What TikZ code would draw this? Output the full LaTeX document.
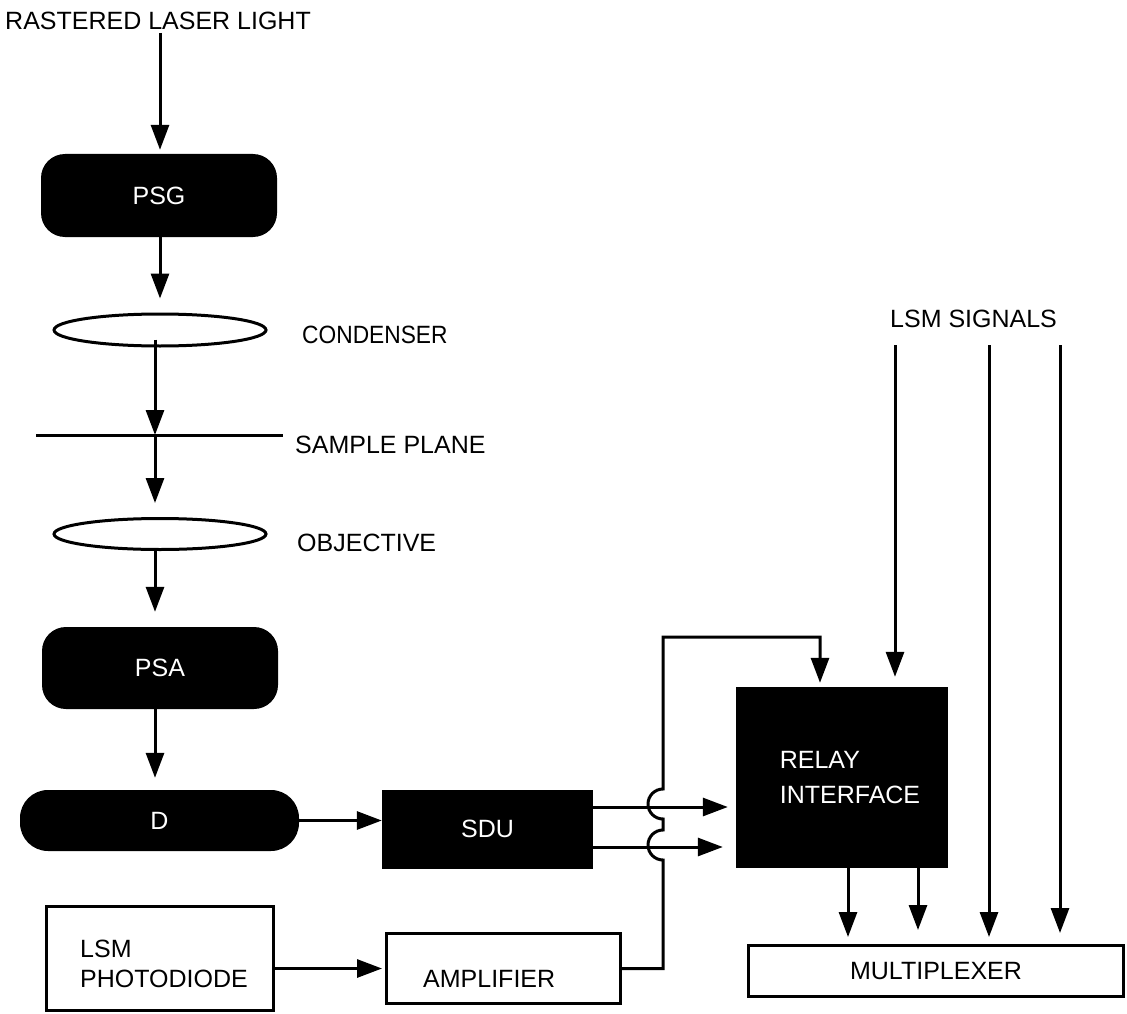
\documentclass[tikz,border=0pt]{standalone}
\usepackage{fontspec}
\setmainfont{Liberation Sans}
\usepackage{graphicx}
\usetikzlibrary{arrows.meta,shapes.geometric}
\begin{document}
\begin{tikzpicture}[x=1pt,y=-1pt,
  every node/.style={font=\fontsize{25}{30}\selectfont},
  lw/.style={line width=3pt},
  arr/.style={lw,-{Triangle[length=25pt,width=18pt]}},
  blk/.style={fill=black,text=white,inner sep=0pt},
  rblk/.style={blk,rounded corners=24pt},
  wbox/.style={draw=black,lw,fill=white,inner sep=0pt},
  lens/.style={ellipse,draw=black,lw,fill=white,inner sep=0pt},
  lbl/.style={inner sep=0pt,anchor=base west}]
\useasboundingbox[fill=white] (0,0) rectangle (1127,1014);

% nodes
\node[rblk,minimum width=236pt,minimum height=83pt] (psg) at (159,195.5) {PSG};
\node[lens,minimum width=212pt,minimum height=32pt] (cond) at (160,330) {};
\node[lens,minimum width=212pt,minimum height=31pt] (obj) at (160,534) {};
\node[rblk,minimum width=236pt,minimum height=82pt] (psa) at (160,668) {PSA};
\node[blk,rounded corners=28pt,minimum width=279pt,minimum height=61pt] (d) at (159.5,820.5) {D};
\node[blk,minimum width=211pt,minimum height=79pt] (sdu) at (487.5,829) {SDU};
\node[blk,minimum width=212pt,minimum height=181pt,align=left,font=\fontsize{25}{35}\selectfont] (relay) at (842,777.5) {\hspace*{16pt}RELAY\\\hspace*{16pt}INTERFACE};
\node[wbox,minimum width=375pt,minimum height=51pt] (mux) at (936,971) {MULTIPLEXER};
\node[wbox,minimum width=227pt,minimum height=104pt] (photo) at (160,958.5) {};
\node[wbox,minimum width=234pt,minimum height=70pt] (amp) at (503.5,968.5) {};

% labels
\node[lbl] (title) at (5,30) {RASTERED LASER LIGHT};
\node[lbl] (condlbl) at (302,343) {\scalebox{0.91}[1]{CONDENSER}};
\node[lbl] (splbl) at (295,453) {SAMPLE PLANE};
\node[lbl] (objlbl) at (297,551) {OBJECTIVE};
\node[lbl] (siglbl) at (890,327) {LSM SIGNALS};
\node[inner sep=0pt,align=left,anchor=base west] (photolbl) at ([xshift=35pt,yshift=-29pt]photo.west) {LSM\\PHOTODIODE};
\node[lbl] (amplbl) at (423,987) {AMPLIFIER};

% coordinates
\coordinate (lasertop) at (160,33);
\coordinate (spl) at (36,435);
\coordinate (spr) at (283,435);
\coordinate (sp) at (155,435);
\coordinate (j1) at (663,860);
\coordinate (j2) at (663,819);
\coordinate (fbcorner) at (663,637);
\coordinate (fbend) at (820,637);
\coordinate (sig1) at (895,345);
\coordinate (sig2) at (989,345);
\coordinate (sig3) at (1060,345);
\coordinate (o1) at (848,900);
\coordinate (o2) at (918,900);

% sample plane
\draw[lw] (spl) -- (spr);

% optical path
\draw[arr,shorten >=4pt] (lasertop) -- (psg.north -| lasertop);
\draw[arr,shorten >=14pt] (psg.south -| lasertop) -- (cond.north -| lasertop);
\draw[arr,shorten <=-8pt] (cond.south -| sp) -- (sp);
\draw[arr,shorten >=14pt] (sp) -- (obj.north -| sp);
\draw[arr,shorten >=15pt] (obj.south -| sp) -- (psa.north -| sp);
\draw[arr,shorten >=12pt] (psa.south -| sp) -- (d.north -| sp);
\draw[arr] (d.east) -- (d.east -| sdu.west);

% SDU to relay
\draw[arr,shorten >=8pt] ([yshift=22pt]sdu.east) -- ([yshift=22pt]sdu.east -| relay.west);
\draw[arr,shorten >=13pt] ([yshift=-18pt]sdu.east) -- ([yshift=-18pt]sdu.east -| relay.west);

% photodiode to amplifier
\draw[arr,shorten >=3pt] (photo.east |- amp.west) -- (amp.west);

% amplifier feedback with jumps
\draw[arr,shorten >=4pt] (amp.east) -- (amp.east -| j1) -- (j1)
  arc[start angle=270,end angle=90,radius=15pt] -- (j2)
  arc[start angle=270,end angle=90,radius=15pt] -- (fbcorner) -- (fbend) -- (relay.north -| fbend);

% LSM signals
\draw[arr,shorten >=10pt] (sig1) -- (relay.north -| sig1);
\draw[arr,shorten >=7pt] (sig2) -- (mux.north -| sig2);
\draw[arr,shorten >=11pt] (sig3) -- (mux.north -| sig3);

% relay outputs
\draw[arr,shorten >=7pt] (relay.south -| o1) -- (mux.north -| o1);
\draw[arr,shorten >=14pt] (relay.south -| o2) -- (mux.north -| o2);
\end{tikzpicture}
\end{document}
